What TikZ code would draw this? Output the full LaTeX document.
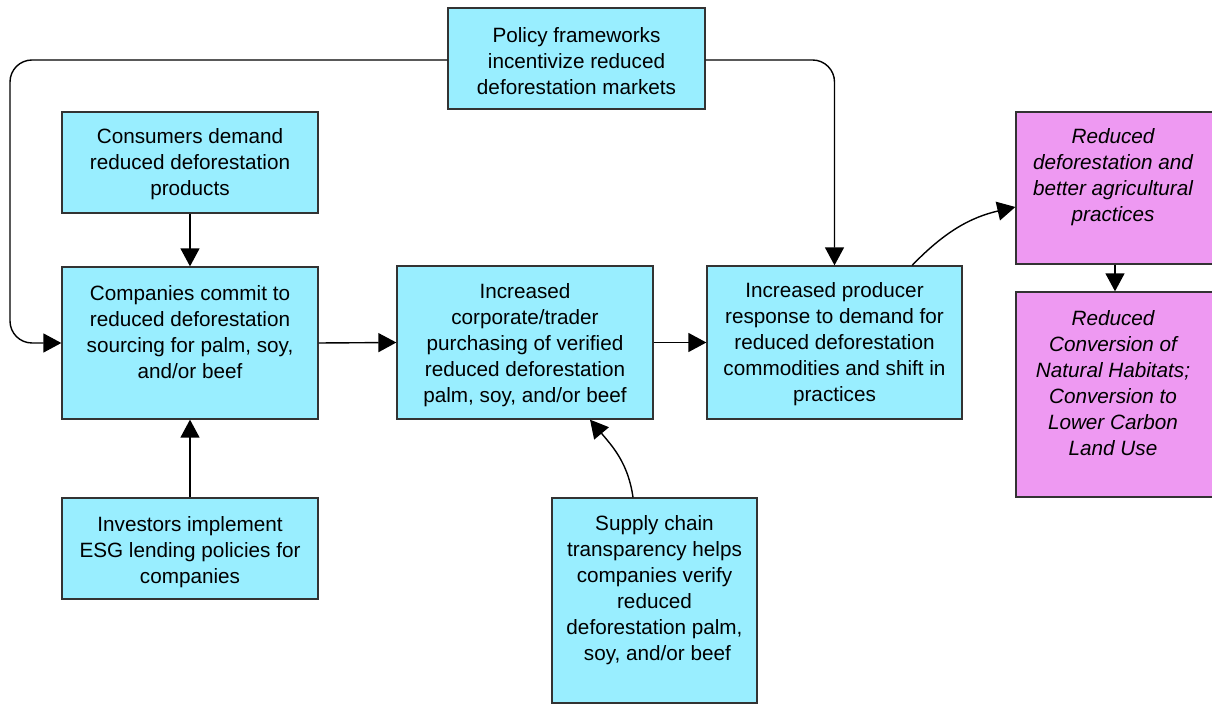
\documentclass[tikz,border=0pt]{standalone}
\usepackage{fontspec}
\setmainfont{Liberation Sans}
\usetikzlibrary{arrows.meta}
\definecolor{boxblue}{RGB}{153,238,255}
\definecolor{boxpink}{RGB}{238,153,242}
\definecolor{boxline}{RGB}{51,51,51}
\begin{document}
\begin{tikzpicture}[x=1pt,y=1pt,
  box/.style={draw=boxline, line width=1.3pt, fill=boxblue, rectangle, inner sep=0pt},
  outbox/.style={box, fill=boxpink},
  txt/.style={align=center, font=\fontsize{20.7}{26}\selectfont, inner sep=0pt, text=black},
  itxt/.style={txt, font=\fontsize{20.7}{26}\selectfont\itshape},
  arr/.style={line width=1.4pt, -{Triangle[length=18pt,width=19pt]}},
]
\useasboundingbox (0,0) rectangle (1212,704);
\fill[white] (0,0) rectangle (1212,704);

% boxes
\node[box, minimum width=257, minimum height=101] (pol) at (576.5,645.5) {};
\node[box, minimum width=256, minimum height=101] (cons) at (190,541.5) {};
\node[box, minimum width=256, minimum height=152] (comp) at (190,361) {};
\node[box, minimum width=256, minimum height=101] (inv) at (190,155.5) {};
\node[box, minimum width=256, minimum height=153] (inc) at (525,361.5) {};
\node[box, minimum width=255, minimum height=153] (prod) at (834.5,361.5) {};
\node[box, minimum width=205, minimum height=205] (sup) at (654.5,103.5) {};
\node[outbox, minimum width=198, minimum height=152] (out1) at (1115,516) {};
\node[outbox, minimum width=198, minimum height=205] (out2) at (1115,309.5) {};

% texts
\node[txt] (polT) at (576.5,643) {Policy frameworks\\incentivize reduced\\deforestation markets};
\node[txt] (consT) at (190,540) {Consumers demand\\reduced deforestation\\products};
\node[txt] (compT) at (190,372) {Companies commit to\\reduced deforestation\\sourcing for palm, soy,\\and/or beef};
\node[txt] (invT) at (190,152) {Investors implement\\ESG lending policies for\\companies};
\node[txt] (incT) at (525,359) {Increased\\corporate/trader\\purchasing of verified\\reduced deforestation\\palm, soy, and/or beef};
\node[txt] (prodT) at (834.5,360) {Increased producer\\response to demand for\\reduced deforestation\\commodities and shift in\\practices};
\node[txt] (supT) at (654.5,113.5) {Supply chain\\transparency helps\\companies verify\\reduced\\deforestation palm,\\\ soy, and/or beef};
\node[itxt] (out1T) at (1113,527) {Reduced\\deforestation and\\better agricultural\\practices};
\node[itxt] (out2T) at (1113,320.5) {Reduced\\Conversion of\\Natural Habitats;\\Conversion to\\Lower Carbon\\Land Use};

% connectors
\coordinate (lc) at (10,644);
\draw[arr, rounded corners=22pt] (pol.west |- lc) -- (lc) -- (lc |- comp.west) -- (comp.west);
\draw[arr, rounded corners=22pt] (pol.east |- lc) -| (prod.north);
\draw[arr] (cons.south) -- (comp.north);
\draw[arr] (inv.north) -- (comp.south);
\draw[arr] (comp.east) -- (inc.west);
\draw[arr] (inc.east) -- (prod.west);
\draw[arr] ([xshift=-50.5pt]prod.north east) to[out=46,in=193] ([yshift=-19pt]out1.west);
\draw[arr] (out1.south) -- (out2.north);
\draw[arr] ([xshift=-21.5pt]sup.north) to[out=98,in=-50] ([xshift=65pt]inc.south);
\end{tikzpicture}
\end{document}
